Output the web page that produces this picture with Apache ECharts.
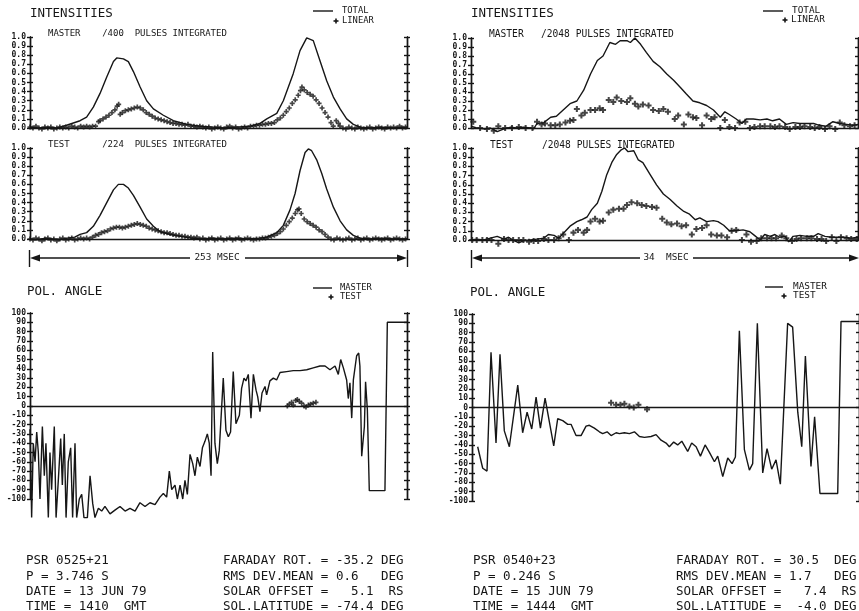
<!DOCTYPE html>
<html><head><meta charset="utf-8">
<script src="https://cdn.jsdelivr.net/npm/echarts/dist/echarts.min.js"></script>
<style>html,body{margin:0;padding:0;background:#fff}#c{width:859px;height:611px}</style>
</head><body><div id="c"></div>
<script>
// ---------------- DATA ----------------
// Left pulsar (PSR 0525+21), x in msec (0..253)
const masterTotalL = [[0,0.01],[6,0.0],[12,0.01],[18,0.0],[24.6,0.03],[33.6,0.08],[38,0.12],[42.5,0.23],[47,0.38],[51.5,0.56],[56,0.73],[58.2,0.77],[62.7,0.76],[66,0.73],[69.4,0.62],[73.9,0.45],[78.3,0.3],[82.8,0.21],[89.5,0.14],[96.2,0.08],[105.2,0.04],[114.1,0.02],[123.1,0.01],[130,0.0],[138,0.01],[147.7,0.02],[154.4,0.05],[158.9,0.1],[165.6,0.16],[170,0.3],[176.7,0.6],[181.2,0.85],[185.7,0.99],[190.1,0.96],[194.6,0.74],[199.1,0.52],[203.6,0.34],[208.1,0.21],[212.5,0.1],[217,0.04],[221.5,0.01],[228,0.0],[236,0.01],[244,0.0],[253,0.01]];
const masterLinearL = [[0,0.01],[2,0.0],[4,0.02],[6,0.0],[8,-0.01],[10,0.01],[12,0.0],[14,0.01],[16,-0.01],[18,0.0],[20,0.01],[22,0.0],[24,0.01],[26,0.0],[28,0.02],[30,0.01],[32,0.0],[34,0.02],[36,0.01],[38,0.02],[40,0.01],[42,0.02],[44,0.02],[46,0.07],[47,0.08],[49,0.1],[51,0.12],[53,0.14],[55,0.17],[57,0.2],[58.5,0.24],[59.5,0.26],[60.5,0.15],[62,0.17],[64,0.19],[66,0.2],[68,0.21],[70,0.22],[72,0.23],[74,0.22],[76,0.2],[78,0.17],[80,0.15],[82,0.13],[84,0.11],[86,0.1],[88,0.09],[90,0.08],[92,0.07],[94,0.06],[96,0.05],[98,0.05],[100,0.04],[102,0.04],[104,0.03],[106,0.04],[108,0.02],[110,0.02],[112,0.01],[114,0.02],[116,0.01],[118,0.0],[120,0.01],[122,-0.01],[124,0.0],[126,0.01],[128,0.0],[130,-0.01],[132,0.01],[134,0.02],[136,0.0],[138,0.01],[140,-0.01],[142,0.0],[144,0.01],[146,0.0],[148,0.02],[150,0.02],[152,0.03],[154,0.03],[156,0.04],[158,0.04],[160,0.05],[162,0.05],[164,0.06],[166,0.09],[168,0.11],[170,0.14],[172,0.18],[174,0.22],[176,0.27],[178,0.31],[180,0.36],[181.5,0.41],[182.5,0.45],[184,0.42],[186,0.39],[188,0.37],[190,0.35],[192,0.31],[194,0.27],[196,0.22],[198,0.17],[200,0.12],[202,0.06],[203.5,0.02],[205.5,0.08],[207,0.05],[208,0.02],[210,0.0],[212,-0.01],[214,0.01],[216,0.0],[218,-0.01],[220,0.01],[222,0.0],[224,-0.01],[226,0.0],[228,0.01],[230,-0.01],[232,0.0],[234,0.01],[236,0.0],[238,-0.01],[240,0.01],[242,0.0],[244,0.01],[246,0.0],[248,0.02],[250,0.0],[252,0.01]];
const testTotalL = [[0,0.0],[5,-0.01],[10,0.01],[15,0.0],[20,-0.01],[25,0.01],[30,0.02],[33.6,0.05],[38,0.07],[42.5,0.14],[47,0.26],[51.5,0.4],[56,0.54],[59.3,0.6],[62.7,0.6],[66,0.56],[69.4,0.48],[73.9,0.35],[78.3,0.22],[82.8,0.14],[87.3,0.08],[94,0.05],[100.7,0.03],[108,0.01],[115,0.0],[122,0.01],[130,0.0],[138,0.01],[146,0.0],[154,0.01],[159,0.02],[165.6,0.07],[170,0.15],[174.5,0.32],[177.9,0.5],[181.2,0.75],[184.6,0.95],[186.8,0.99],[189,0.97],[192.4,0.87],[195.8,0.72],[199.1,0.55],[203.6,0.35],[208.1,0.2],[212.5,0.1],[217,0.04],[221.5,0.01],[228,0.0],[236,0.01],[244,0.0],[253,0.0]];
const testLinearL = [[0,0.0],[2,-0.01],[4,0.01],[6,0.0],[8,-0.02],[10,0.0],[12,0.01],[14,-0.01],[16,0.0],[18,-0.02],[20,0.0],[22,0.01],[24,-0.01],[26,0.0],[28,0.01],[30,-0.01],[32,0.0],[34,0.01],[36,0.0],[38,0.01],[40,0.0],[42,0.02],[44,0.04],[46,0.05],[48,0.07],[50,0.08],[52,0.09],[54,0.11],[56,0.12],[58,0.13],[60,0.13],[62,0.12],[64,0.13],[66,0.14],[68,0.15],[70,0.16],[72,0.17],[74,0.16],[76,0.15],[78,0.14],[80,0.12],[82,0.11],[84,0.1],[86,0.09],[88,0.08],[90,0.07],[92,0.07],[94,0.06],[96,0.05],[98,0.04],[100,0.04],[102,0.03],[104,0.03],[106,0.02],[108,0.02],[110,0.01],[112,0.02],[114,0.0],[116,0.01],[118,-0.01],[120,0.0],[122,0.01],[124,-0.01],[126,0.0],[128,0.01],[130,-0.01],[132,0.0],[134,0.01],[136,-0.01],[138,0.0],[140,0.01],[142,-0.01],[144,0.0],[146,0.01],[148,0.0],[150,-0.01],[152,0.0],[154,0.0],[156,0.01],[158,0.01],[160,0.02],[162,0.03],[164,0.04],[166,0.06],[168,0.08],[170,0.11],[172,0.15],[174,0.19],[176,0.23],[178,0.28],[179.5,0.32],[180.5,0.33],[182,0.28],[184,0.22],[186,0.19],[188,0.17],[190,0.15],[192,0.13],[194,0.1],[196,0.08],[198,0.05],[200,0.02],[202,0.0],[204,-0.01],[206,0.01],[208,0.0],[210,-0.01],[212,0.0],[214,0.01],[216,-0.01],[218,0.0],[220,0.01],[222,-0.01],[224,0.0],[226,0.01],[228,-0.01],[230,0.0],[232,0.01],[234,0.0],[236,-0.01],[238,0.0],[240,0.01],[242,-0.01],[244,0.0],[246,0.01],[248,0.0],[250,-0.01],[252,0.0]];
const polMasterL = [[0.0,-25],[1.1,-120],[2.2,-40],[3.4,-60],[4.5,-28],[5.6,-50],[6.7,-100],[8.3,-22],[9.6,-75],[10.7,-40],[12.3,-120],[13.4,-50],[14.5,-90],[16.3,-22],[17.5,-120],[19.0,-80],[20.6,-35],[21.7,-85],[23.0,-30],[24.2,-120],[25.7,-60],[27.3,-45],[28.6,-120],[30.2,-40],[31.3,-120],[33.1,-100],[34.7,-95],[36.2,-120],[38.5,-120],[40.3,-75],[42.1,-105],[43.6,-120],[45.9,-110],[48.1,-113],[50.3,-108],[53.7,-116],[57.0,-112],[60.4,-108],[63.8,-113],[67.1,-110],[70.5,-113],[73.8,-104],[77.2,-108],[80.5,-104],[83.9,-106],[87.2,-98],[89.5,-94],[91.7,-98],[93.5,-70],[95.1,-90],[97.3,-85],[98.9,-100],[100.7,-85],[102.5,-100],[104.0,-80],[105.6,-95],[107.4,-52],[109.2,-62],[110.7,-75],[112.3,-55],[114.1,-65],[115.7,-45],[117.4,-38],[119.0,-30],[120.3,-40],[121.5,-75],[122.6,58],[124.1,-40],[125.7,-62],[127.0,-48],[129.7,30],[131.5,-26],[133.1,-33],[134.6,-28],[136.4,37],[138.2,-19],[140.5,-10],[142.0,19],[143.6,30],[144.9,27],[146.5,34],[148.3,-13],[149.9,34],[151.7,17],[152.8,10],[154.3,-6],[155.7,14],[157.7,21],[158.8,12],[161.0,27],[163.3,30],[165.5,28],[167.8,36],[172.2,37],[176.7,38],[181.2,38],[185.7,39],[190.1,41],[194.6,43],[198.0,43],[201.3,39],[202.4,37],[204.7,43],[206.9,34],[208.5,50],[210.3,41],[211.4,43],[212.5,28],[213.6,8],[214.7,25],[215.9,-13],[217.0,28],[219.2,54],[220.6,57],[221.4,43],[222.6,-54],[223.2,-54],[224.4,-22],[225.2,26],[226.4,-4],[227.7,-91],[238.2,-91],[239.8,90],[253,90]];
const polTestL = [[172.7,0],[174.0,2],[175.6,4],[176.7,1],[178.3,6],[179.4,7],[180.7,5],[182.3,3],[183.9,0],[185.2,-1],[186.8,1],[188.3,2],[190.1,3],[191.9,4]];

// Right pulsar (PSR 0540+23), x in msec (0..34)
const masterTotalR = [[0,0.02],[0.5,0.0],[1.1,-0.01],[1.7,0.0],[2.3,-0.04],[2.9,-0.01],[3.5,0.01],[4.0,0.0],[4.6,0.01],[5.2,0.0],[5.5,-0.01],[5.8,0.05],[6.4,0.06],[7.0,0.12],[7.5,0.13],[8.1,0.2],[8.7,0.27],[9.3,0.3],[9.9,0.42],[10.5,0.6],[11.1,0.75],[11.6,0.8],[12.2,0.95],[12.7,0.93],[13.1,0.97],[13.7,0.97],[14.0,0.95],[14.4,1.0],[14.9,0.93],[15.4,0.84],[16.0,0.74],[16.6,0.68],[17.2,0.6],[17.8,0.53],[18.4,0.45],[18.9,0.38],[19.5,0.3],[20.1,0.28],[20.7,0.25],[21.3,0.2],[21.9,0.12],[22.3,0.18],[22.7,0.15],[23.3,0.1],[23.8,0.05],[24.2,0.1],[24.8,0.1],[25.4,0.09],[26.0,0.1],[26.5,0.08],[27.1,0.1],[27.7,0.04],[28.3,0.06],[28.9,0.05],[29.5,0.05],[30.1,0.05],[30.6,0.03],[31.2,0.02],[31.8,0.07],[32.4,0.05],[33.0,0.04],[33.6,0.03],[34.0,0.04]];
const masterLinearR = [[0.2,0.07],[0.8,0.0],[1.4,-0.01],[2.0,-0.03],[2.4,0.02],[3.0,0.0],[3.6,0.0],[4.2,0.01],[4.8,0.0],[5.4,0.0],[5.8,0.07],[6.2,0.04],[6.5,0.05],[7.0,0.03],[7.4,0.03],[7.8,0.04],[8.3,0.06],[8.7,0.08],[9.0,0.09],[9.3,0.21],[9.7,0.14],[10.0,0.17],[10.5,0.2],[10.9,0.2],[11.3,0.22],[11.6,0.2],[12.1,0.31],[12.5,0.29],[12.8,0.34],[13.2,0.3],[13.7,0.29],[14.0,0.33],[14.4,0.27],[14.7,0.24],[15.1,0.26],[15.6,0.25],[16.0,0.2],[16.5,0.19],[16.9,0.21],[17.3,0.18],[17.9,0.1],[18.2,0.14],[18.7,0.04],[19.1,0.15],[19.5,0.12],[19.8,0.11],[20.3,0.03],[20.7,0.14],[21.1,0.1],[21.4,0.12],[21.9,0.0],[22.3,0.09],[22.7,0.01],[23.2,0.0],[23.6,0.06],[24.1,0.07],[24.5,0.0],[24.9,0.01],[25.4,0.02],[25.8,0.02],[26.3,0.02],[26.7,0.01],[27.1,0.02],[27.6,0.01],[28.0,-0.01],[28.5,0.01],[28.9,0.01],[29.3,0.02],[29.8,0.01],[30.2,0.0],[30.6,0.01],[31.1,-0.01],[31.5,0.02],[32.0,-0.01],[32.4,0.06],[32.8,0.03],[33.3,0.02],[33.7,0.03]];
const testTotalR = [[0,0.0],[0.5,0.01],[1.1,0.0],[1.7,0.02],[2.3,0.04],[2.9,0.01],[3.3,0.03],[3.7,0.0],[4.2,-0.03],[4.6,-0.01],[5.2,0.0],[5.8,0.01],[6.4,0.02],[6.8,0.06],[7.3,0.05],[7.7,0.02],[8.1,0.07],[8.7,0.15],[9.3,0.2],[9.7,0.22],[10.2,0.25],[10.6,0.33],[11.1,0.4],[11.5,0.53],[11.9,0.7],[12.4,0.85],[12.8,0.93],[13.2,0.98],[13.5,1.0],[13.8,0.96],[14.3,0.97],[14.7,0.87],[15.1,0.84],[15.7,0.72],[16.3,0.6],[16.9,0.5],[17.5,0.44],[18.1,0.37],[18.7,0.31],[19.2,0.28],[19.7,0.22],[20.1,0.24],[20.7,0.2],[21.3,0.21],[21.7,0.2],[22.2,0.16],[22.7,0.1],[23.3,0.1],[23.9,0.11],[24.5,0.09],[24.9,0.05],[25.4,0.0],[25.8,0.06],[26.3,0.04],[26.7,0.06],[27.1,0.03],[27.6,0.04],[27.9,-0.02],[28.3,0.04],[28.9,0.05],[29.5,0.04],[30.1,0.04],[30.5,0.07],[31.1,0.04],[31.7,0.03],[32.3,0.03],[32.8,0.03],[33.4,0.02],[34.0,0.03]];
const testLinearR = [[0.1,0],[0.5,0],[1.0,0],[1.4,0],[1.8,0],[2.4,-0.04],[2.9,0.01],[3.3,0],[3.7,0],[4.2,0],[4.6,0],[5.1,-0.02],[5.5,-0.01],[5.9,-0.01],[6.4,0.01],[6.8,0],[7.3,0],[7.7,0.02],[8.1,0.06],[8.6,0.0],[9.0,0.08],[9.4,0.11],[9.9,0.08],[10.2,0.11],[10.5,0.2],[10.9,0.23],[11.3,0.2],[11.6,0.21],[12.1,0.3],[12.5,0.33],[13.0,0.34],[13.4,0.34],[13.7,0.38],[14.1,0.41],[14.6,0.4],[15.0,0.38],[15.4,0.37],[15.9,0.36],[16.3,0.35],[16.8,0.23],[17.2,0.19],[17.6,0.17],[18.1,0.18],[18.5,0.15],[18.9,0.16],[19.4,0.06],[19.8,0.12],[20.3,0.13],[20.7,0.16],[21.1,0.06],[21.6,0.05],[22.0,0.05],[22.5,0.03],[22.9,0.1],[23.3,0.11],[23.8,0.0],[24.2,0.06],[24.6,-0.02],[25.1,-0.01],[25.5,0.02],[26.0,0.02],[26.4,0.02],[26.8,0.02],[27.3,0.05],[27.7,0.02],[28.2,-0.01],[28.6,0.01],[29.0,0.02],[29.5,0.02],[29.9,0.02],[30.4,0.01],[30.8,0.01],[31.2,-0.01],[31.7,0.03],[32.1,-0.01],[32.5,0.03],[33.0,0.02],[33.4,0.01],[33.9,0.01]];
const polMasterR = [[0.5,-42],[0.94,-65],[1.32,-68],[1.67,59],[2.11,-38],[2.46,57],[2.84,-25],[3.28,-42],[4.02,24],[4.45,-27],[4.84,-5],[5.25,-23],[5.63,11],[6.01,-22],[6.42,10],[7.18,-41],[7.53,-12],[7.97,-14],[8.41,-18],[8.70,-18],[9.14,-30],[9.58,-30],[10.02,-20],[10.31,-19],[10.75,-22],[11.19,-26],[11.48,-28],[11.87,-26],[12.22,-30],[12.66,-27],[12.95,-28],[13.39,-27],[13.83,-28],[14.27,-26],[14.71,-31],[15.15,-32],[15.73,-31],[16.17,-29],[16.61,-35],[17.05,-38],[17.34,-42],[17.72,-37],[18.07,-40],[18.43,-36],[18.95,-47],[19.30,-38],[19.69,-42],[20.07,-52],[20.48,-40],[20.86,-48],[21.30,-58],[21.59,-52],[22.03,-74],[22.47,-54],[22.85,-60],[23.14,-53],[23.49,82],[23.93,-45],[24.37,-67],[24.66,-60],[25.07,90],[25.54,-70],[25.92,-44],[26.33,-66],[26.71,-56],[27.09,-82],[27.73,90],[28.17,86],[28.62,-5],[28.97,-42],[29.29,55],[29.78,-63],[30.1,-10],[30.57,-92],[32.13,-92],[32.42,92],[34,92]];
const polTestR = [[12.22,5],[12.66,3],[13.04,3],[13.39,4],[13.83,1],[14.21,0],[14.62,3],[15.38,-2]];

const intensTicks = {min:0, max:1, interval:0.1};
const polTicks = {min:-100, max:100, interval:10};
const msecSpan = {left:253, right:34};

const textLeft = ["PSR 0525+21","P = 3.746 S","DATE = 13 JUN 79","TIME = 1410  GMT"];
const textLeft2 = ["FARADAY ROT. = -35.2 DEG","RMS DEV.MEAN = 0.6   DEG","SOLAR OFFSET =   5.1  RS","SOL.LATITUDE = -74.4 DEG"];
const textRight = ["PSR 0540+23","P = 0.246 S","DATE = 15 JUN 79","TIME = 1444  GMT"];
const textRight2 = ["FARADAY ROT. = 30.5  DEG","RMS DEV.MEAN = 1.7   DEG","SOLAR OFFSET =   7.4  RS","SOL.LATITUDE =  -4.0 DEG"];

// ---------------- CHART ----------------
const FONT = '"DejaVu Sans Mono","Liberation Mono",monospace';
const INK = '#161616';
const LW = 1.4;

const panels = [
  {rect:{left:30, top:37, width:377, height:91}, xmax:msecSpan.left, y:intensTicks, fmt:v=>v.toFixed(1), line:masterTotalL, pts:masterLinearL, ps:5},
  {rect:{left:30, top:148, width:377, height:91}, xmax:msecSpan.left, y:intensTicks, fmt:v=>v.toFixed(1), line:testTotalL, pts:testLinearL, ps:5},
  {rect:{left:30, top:313, width:377, height:186}, xmax:msecSpan.left, y:polTicks, fmt:v=>String(v), line:polMasterL, pts:polTestL, ps:5},
  {rect:{left:471, top:38, width:387, height:90}, xmax:msecSpan.right, y:intensTicks, fmt:v=>v.toFixed(1), line:masterTotalR, pts:masterLinearR, ps:6},
  {rect:{left:471, top:148, width:387, height:92}, xmax:msecSpan.right, y:intensTicks, fmt:v=>v.toFixed(1), line:testTotalR, pts:testLinearR, ps:6},
  {rect:{left:472, top:314, width:387, height:187}, xmax:msecSpan.right, y:polTicks, fmt:v=>String(v), line:polMasterR, pts:polTestR, ps:6}
];

const PLUS = 'path://M0,3.3L10,3.3L10,6.7L0,6.7Z M3.3,0L6.7,0L6.7,10L3.3,10Z';
const grid=[], xAxis=[], yAxis=[], series=[];
const ls = {color:INK, width:LW};
panels.forEach((p,i)=>{
  for (let k=0;k<2;k++){
    grid.push(Object.assign({containLabel:false}, p.rect));
    xAxis.push({gridIndex:2*i+k, type:'value', min:0, max:p.xmax, axisLine:{show:k===0, onZero:true, lineStyle:ls}, axisTick:{show:false}, axisLabel:{show:false}, splitLine:{show:false}});
    ['left','right'].forEach(pos=>{
      yAxis.push({gridIndex:2*i+k, type:'value', position:pos, min:p.y.min, max:p.y.max, interval:p.y.interval,
        axisLine:{show:true, onZero:false, lineStyle:ls},
        axisTick:{show:true, inside:k===1, length:3, lineStyle:ls},
        axisLabel:{show:(k===0 && pos==='left'), formatter:p.fmt, fontSize:8, fontWeight:'bold', fontFamily:FONT, color:INK, margin:4},
        splitLine:{show:false}});
    });
  }
  series.push({type:'line', xAxisIndex:2*i, yAxisIndex:4*i, data:p.line, showSymbol:false, symbol:'none', clip:false, lineStyle:{color:INK, width:LW}, animation:false, silent:true});
  series.push({type:'scatter', xAxisIndex:2*i, yAxisIndex:4*i, data:p.pts, symbol:PLUS, symbolSize:p.ps, clip:false, itemStyle:{color:INK}, animation:false, silent:true});
});

function T(x,y,s,size,align){
  return {type:'text', x:x, y:y, silent:true, style:{text:s, fontSize:size, fontFamily:FONT, fill:INK, textAlign:align||'left', textVerticalAlign:'middle'}};
}
function L(x1,y1,x2,y2,w){ return {type:'line', silent:true, shape:{x1:x1,y1:y1,x2:x2,y2:y2}, style:{stroke:INK, lineWidth:w||LW}}; }
function TRI(pts){ return {type:'polygon', silent:true, shape:{points:pts}, style:{fill:INK}}; }
function P(x,y){ return [L(x-2.5,y,x+2.5,y,1.6), L(x,y-2.5,x,y+2.5,1.6)]; }

const g = [];
// headings
g.push(T(30,14,'INTENSITIES',12.5), T(471,14,'INTENSITIES',12.5));
g.push(T(27,292,'POL. ANGLE',12.5), T(470,293,'POL. ANGLE',12.5));
// sub titles
g.push(T(48,34,'MASTER    /400  PULSES INTEGRATED',9), T(48,145,'TEST      /224  PULSES INTEGRATED',9));
g.push(T(489,34,'MASTER   /2048 PULSES INTEGRATED',9.6), T(490,145,'TEST     /2048 PULSES INTEGRATED',9.6));
// legends
g.push(L(313,11,333,11), T(342,11,'TOTAL',8.8), ...P(336,21), T(342,21,'LINEAR',8.8));
g.push(L(763,11,783,11), T(792,11,'TOTAL',9.4), ...P(785,20), T(791,20,'LINEAR',9.4));
g.push(L(313,288,332,288), T(340,288,'MASTER',8.8), ...P(331,297), T(340,297,'TEST',8.8));
g.push(L(765,287,783,287), T(793,287,'MASTER',9.4), ...P(784,296), T(793,296,'TEST',9.4));
// msec arrows
g.push(L(29.5,250,29.5,267), L(407.5,250,407.5,267), L(38,258,190,258), L(245,258,399,258),
  TRI([[30,258],[40,254.5],[40,261.5]]), TRI([[407,258],[397,254.5],[397,261.5]]), T(217,258,'253 MSEC',9.4,'center'));
g.push(L(471.5,250,471.5,268), L(480,258,640,258), L(693,258,850,258),
  TRI([[472,258],[482,254.5],[482,261.5]]), TRI([[859,258],[849,254.5],[849,261.5]]), T(666,258,'34  MSEC',9.4,'center'));
// info blocks
const rowsY=[561,577,592,607];
rowsY.forEach((y,i)=>{
  g.push(T(26,y,textLeft[i],12.5), T(223,y,textLeft2[i],12.5), T(473,y,textRight[i],12.5), T(676,y,textRight2[i],12.5));
});

const chart = echarts.init(document.getElementById('c'), null, {renderer:'canvas'});
chart.setOption({animation:false, backgroundColor:'#fff', grid, xAxis, yAxis, series, graphic:{elements:g}});
</script></body></html>
